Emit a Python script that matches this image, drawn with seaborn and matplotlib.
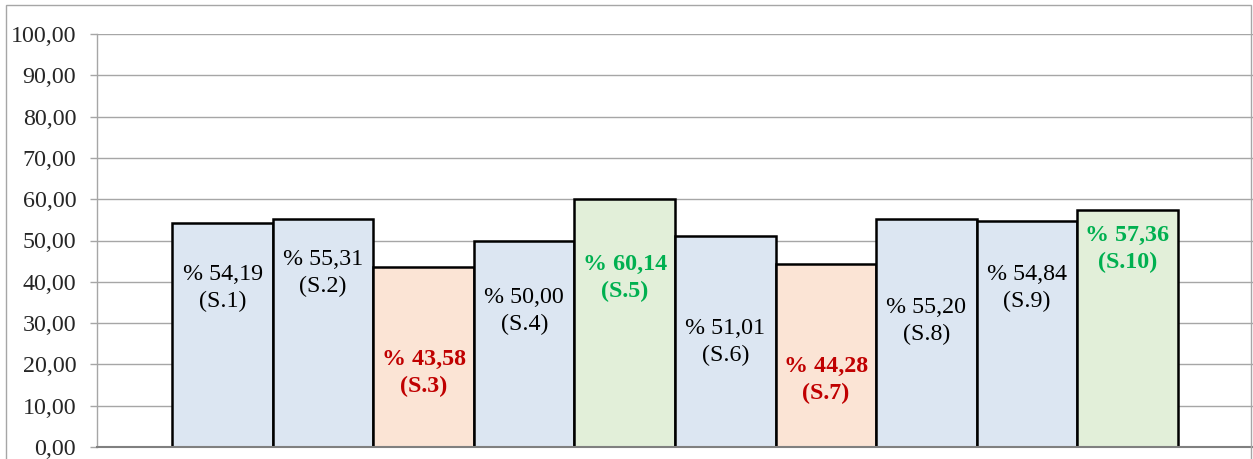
import matplotlib
matplotlib.use("Agg")
import matplotlib.pyplot as plt
import seaborn as sns
import pandas as pd
from matplotlib.patches import Rectangle

# data
sections = ["S.1", "S.2", "S.3", "S.4", "S.5", "S.6", "S.7", "S.8", "S.9", "S.10"]
values = [54.19, 55.31, 43.58, 50.00, 60.14, 51.01, 44.28, 55.20, 54.84, 57.36]
status = ["mid", "mid", "low", "mid", "high", "mid", "low", "mid", "mid", "high"]

# label placement (as in the original, hand positioned)
label_y = [38.5, 42.1, 17.9, 32.9, 40.9, 25.4, 16.2, 30.5, 38.5, 47.9]

fill = {"mid": "#dce6f2", "low": "#fbe4d5", "high": "#e2efd9"}
text_col = {"mid": "black", "low": "#c00000", "high": "#00b050"}

df = pd.DataFrame({"section": sections, "value": values, "status": status})

sns.set_style("white")
plt.rcParams["font.family"] = ["Liberation Serif", "DejaVu Serif"]

fig = plt.figure(figsize=(12.53, 4.59), dpi=100)
ax = fig.add_axes([97 / 1253, 1 - 447 / 459, 1 - 97 / 1253, (447 - 34) / 459])

sns.barplot(data=df, x="section", y="value", hue="section",
            palette=[fill[s] for s in status], legend=False, width=1.0,
            saturation=1, edgecolor="black", linewidth=1.8, ax=ax, zorder=3)

for i, (v, s, ly) in enumerate(zip(values, status, label_y)):
    txt = "% " + f"{v:.2f}".replace(".", ",") + f"\n({sections[i]})"
    ax.text(i, ly, txt, ha="center", va="center", fontsize=17.3,
            color=text_col[s], fontweight="bold" if s != "mid" else "normal",
            linespacing=1.35, zorder=4)

ax.set_xlim(-1.25, 10.25)
ax.set_ylim(0, 100)
ax.set_yticks(range(0, 101, 10))
ax.set_yticklabels([f"{t:.2f}".replace(".", ",") for t in range(0, 101, 10)], fontsize=17.3)
ax.set_xticks([])
ax.set_xlabel("")
ax.set_ylabel("")

ax.grid(axis="y", color="#a6a6a6", linewidth=1.0, zorder=0)
ax.set_axisbelow(True)
ax.tick_params(axis="y", direction="out", length=5, width=1, color="#a6a6a6",
               pad=10, left=True)

for side in ["top", "right"]:
    ax.spines[side].set_visible(False)
ax.spines["left"].set_color("#a6a6a6")
ax.spines["left"].set_linewidth(1.0)
ax.spines["bottom"].set_color("#808080")
ax.spines["bottom"].set_linewidth(1.5)
ax.spines["bottom"].set_zorder(5)

# outer chart frame
fig.patches.append(Rectangle((6 / 1253, -0.05), (1251 - 6) / 1253, 1.05 - 5 / 459,
                             transform=fig.transFigure, fill=False,
                             edgecolor="#a6a6a6", linewidth=1.0))

fig.savefig("out.png", dpi=100)
